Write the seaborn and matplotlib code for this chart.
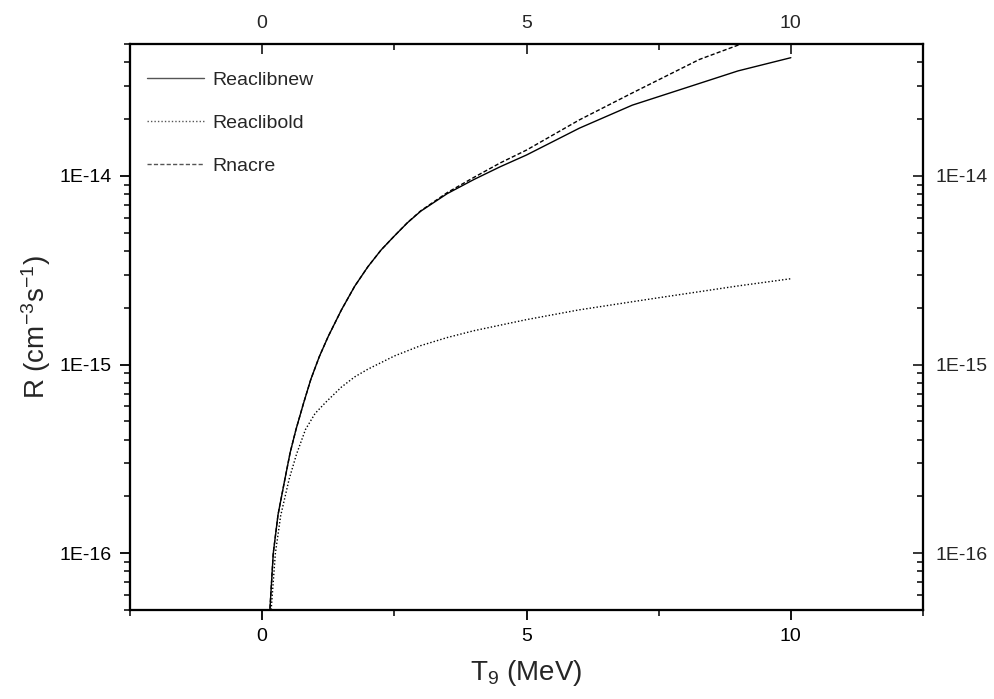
import numpy as np
import pandas as pd
import matplotlib
matplotlib.use("Agg")
import matplotlib.pyplot as plt
import seaborn as sns
from matplotlib.ticker import FixedLocator, LogLocator, FuncFormatter, NullFormatter

sns.set_theme(style="white")
plt.rcParams['font.family'] = ['Liberation Sans', 'DejaVu Sans']
plt.rcParams['mathtext.fontset'] = 'custom'
plt.rcParams['mathtext.rm'] = 'Liberation Sans'
plt.rcParams['mathtext.it'] = 'Liberation Sans'

# ---- data ----
t_new = [0.10, 0.146, 0.21, 0.30, 0.43, 0.53, 0.64, 0.78, 0.92, 1.08, 1.25, 1.5, 1.75, 2.0, 2.25, 2.5,
         2.75, 3.0, 3.5, 4.0, 4.5, 5.0, 6.0, 7.0, 8.27, 9.0, 10.0]
r_new = [2.0e-17, 5.0e-17, 1.0e-16, 1.6e-16, 2.47e-16, 3.42e-16, 4.53e-16, 6.2e-16, 8.34e-16, 1.1e-15,
         1.41e-15, 1.95e-15, 2.6e-15, 3.3e-15, 4.05e-15, 4.8e-15,
         5.65e-15, 6.5e-15, 8.05e-15, 9.55e-15, 1.117e-14, 1.29e-14, 1.79e-14, 2.37e-14, 3.09e-14,
         3.6e-14, 4.23e-14]

t_old = [0.10, 0.17, 0.25, 0.35, 0.51, 0.65, 0.82, 1.0, 1.2, 1.5, 1.75, 2.0, 2.5, 3.0, 3.5, 4.0, 5.0,
         6.0, 7.5, 9.0, 10.0]
r_old = [1.5e-17, 5.0e-17, 1.0e-16, 1.58e-16, 2.47e-16, 3.35e-16, 4.53e-16, 5.5e-16, 6.3e-16, 7.6e-16,
         8.6e-16, 9.45e-16, 1.11e-15, 1.26e-15, 1.39e-15, 1.51e-15, 1.73e-15, 1.95e-15, 2.26e-15,
         2.61e-15, 2.85e-15]

t_nacre = [0.10, 0.146, 0.21, 0.30, 0.43, 0.53, 0.64, 0.78, 0.92, 1.08, 1.25, 1.5, 1.75, 2.0, 2.25, 2.5,
           2.75, 3.0, 3.5, 4.0, 4.5, 5.0, 6.0, 7.0, 8.27, 9.06, 10.0]
r_nacre = [2.0e-17, 5.0e-17, 1.0e-16, 1.6e-16, 2.47e-16, 3.42e-16, 4.53e-16, 6.2e-16, 8.34e-16, 1.1e-15,
           1.41e-15, 1.95e-15, 2.6e-15, 3.3e-15, 4.05e-15, 4.8e-15,
           5.66e-15, 6.53e-15, 8.15e-15, 9.8e-15, 1.17e-14, 1.37e-14, 1.98e-14, 2.75e-14, 4.14e-14,
           5.0e-14, 6.1e-14]

series_names = ["Reaclibnew", "Reaclibold", "Rnacre"]

fig = plt.figure(figsize=(9.95, 6.99), dpi=100)
ax = fig.add_axes([130/995, 1-610/699, (923-130)/995, (610-44)/699])

styles = {"Reaclibnew": "-", "Reaclibold": (0, (1, 1.5)), "Rnacre": (0, (3, 1.6))}
data = {"Reaclibnew": (t_new, r_new), "Reaclibold": (t_old, r_old), "Rnacre": (t_nacre, r_nacre)}
for name in series_names:
    tt, rr = data[name]
    df = pd.DataFrame({"T9": tt, "R": rr})
    sns.lineplot(data=df, x="T9", y="R", ax=ax, color="black", linewidth=1.0,
                 linestyle=styles[name], label=name, sort=False)

ax.set_yscale("log")
xlim = (-2.5, 12.5)
ylim = (5e-17, 5e-14)
ax.set_xlim(*xlim)
ax.set_ylim(*ylim)

fmt = FuncFormatter(lambda v, p: "1E%d" % int(round(np.log10(v))))
major_y = [1e-16, 1e-15, 1e-14]
major_x = [0, 5, 10]
minor_x = [-2.5, 2.5, 7.5, 12.5]

ax.xaxis.set_major_locator(FixedLocator(major_x))
ax.xaxis.set_minor_locator(FixedLocator(minor_x))
ax.yaxis.set_major_locator(FixedLocator(major_y))
ax.yaxis.set_minor_locator(LogLocator(base=10, subs=np.arange(2, 10)))
ax.yaxis.set_major_formatter(fmt)
ax.yaxis.set_minor_formatter(NullFormatter())

ax.tick_params(axis="both", which="major", direction="out", length=7, width=1.3,
               labelsize=14, colors="black", pad=6)
ax.tick_params(axis="both", which="minor", direction="out", length=4, width=1.3)
ax.tick_params(bottom=True, left=True, which="both")

# right axis
axr = ax.twinx()
axr.set_yscale("log")
axr.set_ylim(*ylim)
axr.yaxis.set_major_locator(FixedLocator(major_y))
axr.yaxis.set_minor_locator(LogLocator(base=10, subs=np.arange(2, 10)))
axr.yaxis.set_major_formatter(fmt)
axr.yaxis.set_minor_formatter(NullFormatter())
axr.tick_params(axis="y", which="major", direction="in", length=7, width=1.3, labelsize=14, pad=9)
axr.tick_params(axis="y", which="minor", direction="in", length=4, width=1.3)

# top axis
axt = ax.twiny()
axt.set_xlim(*xlim)
axt.xaxis.set_major_locator(FixedLocator(major_x))
axt.xaxis.set_minor_locator(FixedLocator(minor_x))
axt.tick_params(axis="x", which="major", direction="in", length=7, width=1.3, labelsize=14, pad=9)
axt.tick_params(axis="x", which="minor", direction="in", length=4, width=1.3)

for a in (ax, axr, axt):
    for s in a.spines.values():
        s.set_linewidth(1.5)
        s.set_color("black")

ax.set_xlabel(r"T$_{9}$ (MeV)", fontsize=20, labelpad=9)
ax.set_ylabel(r"R (cm$^{-3}$s$^{-1}$)", fontsize=20, labelpad=5)

leg = ax.legend(loc="upper left", frameon=False, fontsize=14, handlelength=2.9,
                handletextpad=0.45, labelspacing=1.3, borderaxespad=0.0,
                bbox_to_anchor=(0.012, 0.965))
for h in leg.get_lines():
    h.set_color("#555555")

fig.savefig("out.png", dpi=100)
